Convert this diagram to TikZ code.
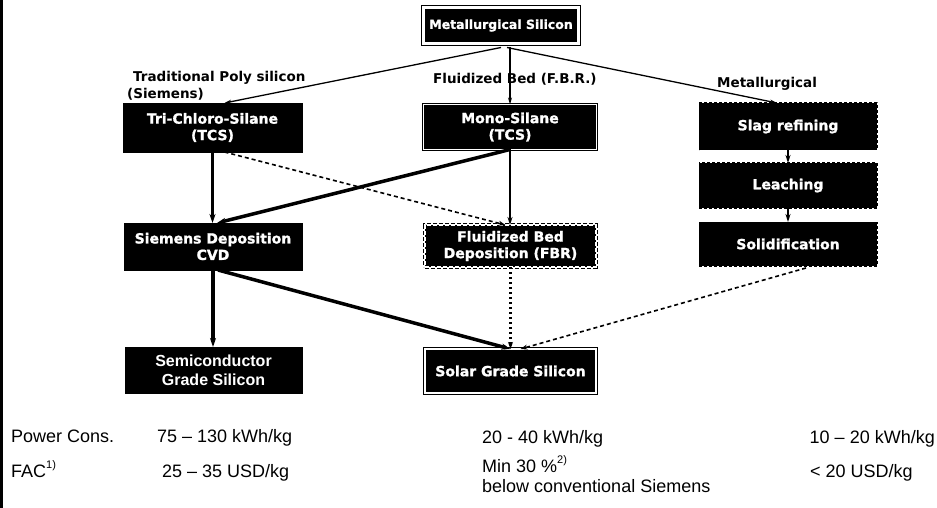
\documentclass[tikz,border=0pt]{standalone}
\usepackage{fontspec}
\setmainfont{Liberation Sans}
\newfontfamily\boxfont{DejaVu Sans}[BoldFeatures={FakeBold=1.3}]
\newfontfamily\labfont{DejaVu Sans}
\usetikzlibrary{arrows.meta,calc}
\begin{document}
\begin{tikzpicture}[x=1pt,y=-1pt,
  bx/.style={fill=black,draw=black,text=white,inner sep=0pt,outer sep=0pt,align=center,
    font=\boxfont\bfseries\fontsize{14}{16.5}\selectfont},
  dbl/.style={bx,line width=1pt,double=white,double distance=2pt},
  dashbox/.style={bx,line width=1pt,dash pattern=on 3pt off 2pt},
  dbldash/.style={bx,line width=1pt,double=white,double distance=2pt,dash pattern=on 4pt off 2pt},
  lab/.style={font=\labfont\bfseries\fontsize{13.5}{16}\selectfont,inner sep=0pt},
  txt/.style={font=\fontsize{18}{20}\selectfont,inner sep=0pt},
  thinarr/.style={line width=1.3pt,-{Stealth[length=7pt,width=4pt]}},
  midarr/.style={line width=2pt,-{Stealth[length=8pt,width=5pt]}},
  thickarr/.style={line width=3.5pt,-{Stealth[length=9pt,width=6pt]}},
  dasharr/.style={line width=1.6pt,dash pattern=on 4pt off 3pt,-{Stealth[length=7pt,width=5pt]}},
  dotarr/.style={line width=2.4pt,dash pattern=on 2pt off 3pt,-{Stealth[length=7pt,width=5pt]}}
]
\useasboundingbox (0,0) rectangle (937,508);
\fill[white] (0,0) rectangle (937,508);
\draw[line width=3pt] (1.5,0) -- (1.5,508);

% boxes
\node[dbl,line width=1.2pt,double distance=2.5pt,minimum width=155pt,minimum height=36pt,
  font=\boxfont\bfseries\fontsize{12.5}{15}\selectfont] (met) at (501,25.5) {Metallurgical Silicon};
\node[bx,minimum width=179pt,minimum height=49pt] (tcs) at (212.5,127.5) {Tri-Chloro-Silane\\(TCS)};
\node[dbl,line width=0.9pt,double distance=1.4pt,minimum width=173pt,minimum height=45pt] (mono) at (510,127) {Mono-Silane\\(TCS)};
\node[dashbox,minimum width=178pt,minimum height=47pt] (slag) at (788,126.5) {Slag refining};
\node[dashbox,minimum width=178pt,minimum height=45pt] (leach) at (788,185.5) {Leaching};
\node[dashbox,minimum width=178pt,minimum height=44pt] (solid) at (788,244) {Solidification};
\node[bx,minimum width=178pt,minimum height=47pt] (sdep) at (213,246.5) {Siemens Deposition\\CVD};
\node[dbldash,minimum width=171pt,minimum height=42pt] (fbr) at (510.5,246) {Fluidized Bed\\Deposition (FBR)};
\node[bx,minimum width=177pt,minimum height=46pt,
  font=\bfseries\fontsize{16}{19}\selectfont] (semi) at (213.5,370) {Semiconductor\\Grade Silicon};
\node[dbl,minimum width=171pt,minimum height=44pt] (solar) at (510.5,371) {Solar Grade Silicon};

% route labels
\node[lab,anchor=base west] (l1) at (133,82) {Traditional Poly silicon};
\node[lab,anchor=base west] (l2) at (127,99) {(Siemens)};
\node[lab,anchor=base west] (l3) at (433,84) {Fluidized Bed (F.B.R.)};
\node[lab,anchor=base west] (l4) at (717,88) {Metallurgical};

% connectors
\draw[thinarr] ($(met.south)+(0,4)$) -- ($(tcs.north)+(12,0)$);
\draw[thinarr] ($(met.south)+(9,4)$) -- (mono.north);
\draw[thinarr] ($(met.south)+(6,4)$) -- ($(slag.north)+(-11,0)$);
\draw[midarr] (slag.south) -- (leach.north);
\draw[midarr] (leach.south) -- (solid.north);
\draw[thickarr] (tcs.south) -- (tcs.south |- sdep.north);
\draw[dasharr] ($(tcs.south)+(12,0)$) -- ($(fbr.north)+(-5,0)$);
\draw[midarr] (mono.south) -- (mono.south |- fbr.north);
\draw[thickarr] (mono.south) -- ($(sdep.north)+(4,0)$);
\draw[thickarr] (sdep.south) -- (sdep.south |- semi.north);
\draw[thickarr] ($(sdep.south)+(5,0)$) -- (solar.north);
\draw[dotarr] (fbr.south) -- (solar.north);
\draw[dasharr] ($(solid.south)+(18,2)$) -- ($(solar.north)+(10,0)$);

% bottom table
\node[txt,anchor=base west] (pc) at (11,442) {Power Cons.};
\node[txt,anchor=base west] (pc1) at (157,442) {75 – 130 kWh/kg};
\node[txt,anchor=base west] (pc2) at (482,443) {20 - 40 kWh/kg};
\node[txt,anchor=base east] (pc3) at (935,443) {10 – 20 kWh/kg};
\node[txt,anchor=base west] (fac) at (11,477) {FAC\raisebox{0.45em}{\fontsize{11}{11}\selectfont 1)}};
\node[txt,anchor=base west] (fac1) at (162,477) {25 – 35 USD/kg};
\node[txt,anchor=base west] (fac2) at (482,472) {Min 30 \%\raisebox{0.45em}{\fontsize{11}{11}\selectfont 2)}};
\node[txt,anchor=base west] (fac2b) at (482,492) {below conventional Siemens};
\node[txt,anchor=base west] (fac3) at (810,477) {< 20 USD/kg};
\end{tikzpicture}
\end{document}
